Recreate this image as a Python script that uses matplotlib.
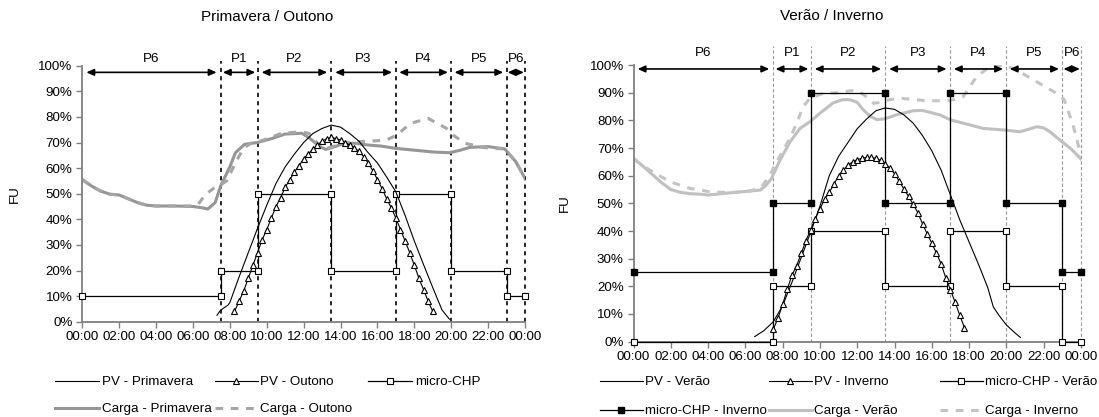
import numpy as np
import matplotlib.pyplot as plt

plt.rcParams['font.family'] = ['Liberation Sans', 'DejaVu Sans']
plt.rcParams['font.size'] = 9.5

W, H = 1099, 417

# periods (hours), same for both charts
bounds = [0, 7.5, 9.5, 13.5, 17, 20, 23, 24]
periods = ['P6', 'P1', 'P2', 'P3', 'P4', 'P5', 'P6']
hour_ticks = list(range(0, 25, 2))
hour_labels = ['00:00', '02:00', '04:00', '06:00', '08:00', '10:00', '12:00',
               '14:00', '16:00', '18:00', '20:00', '22:00', '00:00']

# ---------------- Primavera / Outono ----------------
pv_prim_h = [7.3, 7.5, 7.9, 8.0, 8.5, 9.0, 9.5, 10.0, 10.5, 11.0, 11.5, 12.0, 12.5,
             13.0, 13.5, 14.0, 14.5, 15.0, 15.5, 16.0, 16.5, 17.0, 17.5, 18.0,
             18.5, 19.0, 19.5, 19.9]
pv_prim = [2.5, 4.5, 6.5, 7.5, 17.5, 27, 36.5, 45.5, 54, 60.5, 65.5, 70, 73.5,
           75.5, 76.8, 76, 73.5, 70.5, 66, 62, 56.5, 50.7, 41.5, 31.5,
           22.3, 13.3, 4.6, 1]

pv_out_h = np.arange(8.25, 19.01, 0.25)
pv_out = [4, 8, 12, 17, 22, 27, 32, 36, 40.5, 45, 48.5, 52.5, 55.5, 58.5, 61,
          63.5, 65.5, 67.5, 69, 70.5, 71.5, 72, 71.5, 71, 70, 69, 68, 66.5,
          64.5, 62, 59, 55.5, 52, 48, 44.5, 40.5, 36, 31.5, 27, 22, 17, 12.5,
          8, 4]

carga_prim_h = [0, 0.5, 1, 1.5, 2, 2.5, 3, 3.5, 4, 5, 6, 6.5, 6.8, 7.2, 7.5, 8,
                8.3, 8.8, 9.5, 10.3, 11, 11.9, 12.3, 12.9, 13.2, 13.7, 14.2,
                14.8, 15.5, 16.2, 17, 18, 19, 19.9, 20.5, 21, 22, 22.9, 23.5, 24]
carga_prim = [55.5, 53, 51, 49.8, 49.5, 48, 46.5, 45.5, 45.2, 45.2, 45, 44.5,
              44, 46.5, 53, 60.5, 66, 69.3, 70, 71.6, 73.3, 73.6, 71.8, 68.3,
              67.3, 68.4, 69.7, 69.7, 69, 68.6, 67.7, 67, 66.3, 66, 67, 68.1,
              68.4, 67.5, 62.5, 56]

carga_out_h = [0, 0.5, 1, 1.5, 2, 2.5, 3, 3.5, 4, 5, 5.8, 6.3, 6.65, 7.1, 7.5,
               7.83, 8.3, 8.73, 9.27, 9.72, 10.8, 11.9, 12.3, 12.9, 13.2, 13.7,
               14.3, 14.9, 16.0, 16.5, 17.04, 17.8, 18.75, 19.75, 20.1, 20.74,
               21.7, 22.2, 22.9, 23.5, 24]
carga_out = [55.5, 53, 51, 49.8, 49.5, 48, 46.5, 45.5, 45.2, 45.2, 45.2, 46,
             49.5, 52, 53.5, 55, 62, 67.7, 70.3, 70.7, 73.6, 74.2, 73.5, 68.5,
             67.5, 68.8, 70, 70.3, 70.7, 71, 72.9, 77.5, 79.4, 75.5, 72.9, 69.7,
             68.1, 67.7, 67.5, 62.5, 56]

chp_levels = [10, 20, 50, 20, 50, 20, 10]

# ---------------- Verão / Inverno ----------------
pv_ver_h = [6.5, 7.0, 7.5, 8.0, 8.5, 9.0, 9.5, 10.0, 10.5, 11.0, 11.5, 12.0,
            12.5, 13.0, 13.5, 14.0, 14.5, 15.0, 15.5, 16.0, 16.5, 17.0, 17.5,
            18.0, 18.5, 19.0, 19.3, 19.6, 20.0, 20.4, 20.75]
pv_ver = [1.8, 4, 7.2, 13, 21.5, 30.5, 39.5, 49, 60, 67, 72, 77, 80.5, 83.5,
          84.5, 84, 82, 79, 74.5, 69, 62, 53, 44, 36, 28, 19.5, 12.5, 9.5, 6,
          3.5, 1.5]

pv_inv_h = np.arange(7.5, 17.76, 0.25)
pv_inv = [4.5, 8.5, 13.5, 19, 24, 27.5, 32, 36.5, 40.5, 44.5, 48, 51.5, 54, 57,
          59.8, 62, 63.8, 65, 65.8, 66.3, 66.6, 66.6, 66.3, 65.5, 64.3, 62.8,
          60.7, 58, 55.2, 52.5, 49.6, 46.6, 42.6, 39, 35.5, 32, 28, 23, 18.7,
          14.2, 9.5, 5]

carga_ver_h = [0, 0.5, 1, 1.5, 2, 2.5, 3, 3.6, 4, 5, 6, 6.8, 7.1, 7.4, 7.86, 8.4,
               8.93, 9.46, 10, 10.7, 11.2, 11.6, 12.0, 12.32, 12.7, 13.04, 13.4,
               13.66, 14.1, 15, 15.5, 16.43, 17, 17.68, 18.76, 19.92, 20.72,
               21.2, 21.62, 22, 22.33, 22.87, 23.5, 24]
carga_ver = [66.3, 63.5, 60.5, 57.5, 55, 54, 53.5, 53.3, 53, 53.7, 54.3, 54.8,
             56.5, 59, 65.7, 72.3, 77.1, 79.5, 82.6, 86.3, 87.5, 87.5, 86.5,
             83.8, 81.5, 80.3, 80.5, 81, 82, 83.5, 83.6, 82, 80.2, 79, 77.1,
             76.5, 75.9, 76.8, 77.7, 77.3, 75.9, 72.9, 69.5, 66]

carga_inv_h = [0, 0.88, 1.96, 3.03, 4.1, 5, 5.5, 6.3, 6.87, 7.3, 7.6, 8.03, 8.39,
               8.75, 9.1, 9.46, 10.18, 11.07, 11.6, 12.0, 12.4, 12.86, 13.3,
               13.66, 14.29, 15.0, 15.72, 16.61, 17.2, 17.68, 18.4, 19.1, 19.83,
               20.55, 21.62, 22.69, 23.1, 23.57, 24]
carga_inv = [66, 62, 57.8, 55.4, 54.2, 53.9, 54, 54.5, 56, 60, 64, 69.3, 73.5,
             79, 85, 88, 89.8, 90, 90.7, 90.8, 89, 86.2, 86.5, 87.4, 88, 87.6,
             87.1, 87.1, 87.5, 88.6, 95.8, 99.4, 100, 98.2, 94, 89.8, 87.5,
             78.4, 67.3]

chp_ver_levels = [0, 20, 40, 20, 40, 20, 0]
chp_inv_levels = [25, 50, 90, 50, 90, 50, 25]


def steps(levels):
    xs, ys = [], []
    for i, lv in enumerate(levels):
        xs += [bounds[i], bounds[i + 1]]
        ys += [lv, lv]
    return xs, ys


def setup_axes(ax):
    ax.set_xlim(0, 24)
    ax.set_ylim(0, 100)
    ax.set_xticks(hour_ticks)
    ax.set_xticklabels(hour_labels)
    ax.set_yticks(range(0, 101, 10))
    ax.set_yticklabels([f'{v}%' for v in range(0, 101, 10)])
    for s in ['top', 'right']:
        ax.spines[s].set_visible(False)
    for s in ['left', 'bottom']:
        ax.spines[s].set_color('#808080')
        ax.spines[s].set_linewidth(1.3)
    ax.tick_params(length=4, color='#808080', width=1, pad=3, labelsize=9.6)
    ax.set_ylabel('FU', fontsize=9.6)


def periods_marks(ax, ls, color, lw, top, y_arrow, y_label):
    for b in bounds[1:]:
        ax.plot([b, b], [0, top], ls=ls, color=color, lw=lw, clip_on=False, zorder=1)
    for i, p in enumerate(periods):
        a, b = bounds[i], bounds[i + 1]
        gap = min(0.22, (b - a) * 0.06)
        ax.annotate('', xy=(a + gap, y_arrow), xytext=(b - gap, y_arrow),
                    arrowprops=dict(arrowstyle='<|-|>,head_length=0.4,head_width=0.18',
                                    color='k', lw=1.2, shrinkA=0, shrinkB=0,
                                    mutation_scale=11),
                    annotation_clip=False)
        ax.text((a + b) / 2, y_label, p, ha='center', va='center', fontsize=9.6)


fig = plt.figure(figsize=(W / 100, H / 100), dpi=100)

# ---- left chart ----
ax1 = fig.add_axes([82.3 / W, 1 - 321.7 / H, 442.7 / W, 256 / H])
setup_axes(ax1)
ax1.yaxis.set_label_coords(-0.138, 0.5)
periods_marks(ax1, (0, (2.5, 2.5)), 'k', 1.2, 101.7, 97.4, 102.6)

l_cp, = ax1.plot(carga_prim_h, carga_prim, color='#969696', lw=2.2, zorder=2)
l_co, = ax1.plot(carga_out_h, carga_out, color='#a6a6a6', lw=2.2, ls=(0, (2.5, 2.5)), zorder=2)
x, y = steps(chp_levels)
l_chp, = ax1.plot(x, y, color='k', lw=0.9, marker='s', ms=4.5, mfc='white',
                  mec='k', mew=0.8, clip_on=False, zorder=3)
l_pp, = ax1.plot(pv_prim_h, pv_prim, color='k', lw=0.8, zorder=3)
l_po, = ax1.plot(pv_out_h, pv_out, color='k', lw=0.8, marker='^', ms=5,
                 mfc='white', mec='k', mew=0.8, zorder=3)

fig.text(267 / W, 1 - 17 / H, 'Primavera / Outono', ha='center', va='center', fontsize=11)

# ---- right chart ----
ax2 = fig.add_axes([633.5 / W, 1 - 341.6 / H, 447.5 / W, 276.5 / H])
setup_axes(ax2)
ax2.yaxis.set_label_coords(-0.14, 0.5)
periods_marks(ax2, (0, (3, 2)), '#999999', 0.8, 107, 98.6, 104.3)

l_cv, = ax2.plot(carga_ver_h, carga_ver, color='#c0c0c0', lw=2.2, zorder=2)
l_ci, = ax2.plot(carga_inv_h, carga_inv, color='#c4c4c4', lw=2.2, ls=(0, (2.5, 2.5)), zorder=2)
x, y = steps(chp_ver_levels)
l_chv, = ax2.plot(x, y, color='k', lw=0.9, marker='s', ms=4.5, mfc='white',
                  mec='k', mew=0.8, clip_on=False, zorder=3)
x, y = steps(chp_inv_levels)
l_chi, = ax2.plot(x, y, color='k', lw=0.9, marker='s', ms=5, mfc='k',
                  mec='k', clip_on=False, zorder=3)
l_pv, = ax2.plot(pv_ver_h, pv_ver, color='k', lw=0.8, zorder=3)
l_pi, = ax2.plot(pv_inv_h, pv_inv, color='k', lw=0.8, marker='^', ms=5,
                 mfc='white', mec='k', mew=0.8, zorder=3)

fig.text(832 / W, 1 - 16 / H, 'Verão / Inverno', ha='center', va='center', fontsize=11)


# legends, one per column
def col_legend(handles, labels, x, y, hl, sp):
    fig.legend(handles, labels, loc='upper left', bbox_to_anchor=(x / W, 1 - y / H),
               frameon=False, handlelength=hl, handletextpad=0.2, borderpad=0,
               borderaxespad=0, labelspacing=sp, fontsize=9.6, numpoints=1)


col_legend([l_pp, l_cp], ['PV - Primavera', 'Carga - Primavera'], 55, 376, 3.3, 1.1)
col_legend([l_po, l_co], ['PV - Outono', 'Carga - Outono'], 215, 376, 3.2, 1.1)
col_legend([l_chp], ['micro-CHP'], 368, 376, 3.3, 1.1)

col_legend([l_pv, l_chi], ['PV - Verão', 'micro-CHP - Inverno'], 600, 376, 3.2, 1.25)
col_legend([l_pi, l_cv], ['PV - Inverno', 'Carga - Verão'], 769, 376, 3.2, 1.25)
col_legend([l_chv, l_ci], ['micro-CHP - Verão', 'Carga - Inverno'], 940, 376, 3.2, 1.25)

fig.savefig('out.png', dpi=100)
